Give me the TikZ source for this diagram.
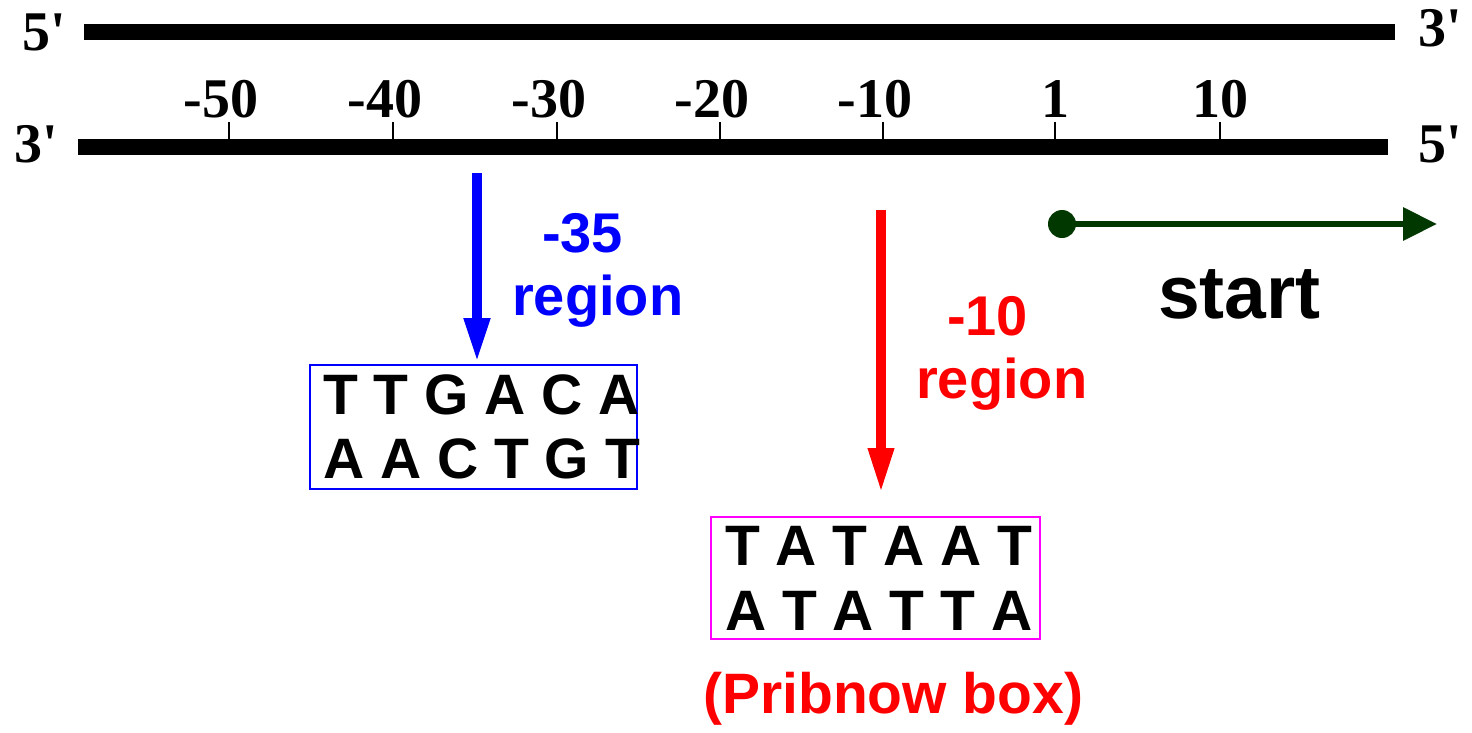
\documentclass[tikz,border=0pt]{standalone}
\usepackage{fontspec}
\setmainfont{Liberation Serif}[Ligatures=TeXOff]
\setsansfont{Liberation Sans}
\usetikzlibrary{arrows.meta}
\definecolor{darkgr}{RGB}{0,56,0}
\definecolor{boxmag}{RGB}{255,0,255}
\definecolor{pureblue}{RGB}{0,0,255}
\definecolor{purered}{RGB}{255,0,0}
\tikzset{
  strand/.style={line width=16pt},
  tick/.style={line width=2pt},
  endlab/.style={anchor=base west, inner sep=0pt, font=\fontsize{56}{60}\selectfont\bfseries},
  poslab/.style={anchor=base, inner sep=0pt, font=\fontsize{56}{60}\selectfont\bfseries},
  lab/.style={anchor=base west, inner sep=0pt, font=\fontsize{56}{60}\selectfont\sffamily\bfseries},
  seq/.style={anchor=base west, inner sep=0pt, font=\fontsize{57}{60}\selectfont\sffamily\bfseries},
  seqbox/.style={draw, line width=2pt, inner sep=0pt},
  downarrow/.style={line width=10pt, -{Triangle[length=45pt, width=24pt]}},
}
\begin{document}
\begin{tikzpicture}[x=1pt, y=-1pt]
\useasboundingbox (0,0) rectangle (1472,732);

% DNA double strand
\coordinate (topL) at (84,32);
\coordinate (topR) at (1395,32);
\coordinate (botL) at (78,146.5);
\coordinate (botR) at (1388,146.5);
\draw[strand] (topL) -- (topR);
\draw[strand] (botL) -- (botR);

\node[endlab] (t5) at (22,50) {5'};
\node[endlab] (t3) at (1418,46) {3'};
\node[endlab] (b3) at (14,162) {3'};
\node[endlab] (b5) at (1418,162) {5'};

% position ticks with labels
\foreach \x/\t in {229/-50, 393/-40, 557/-30, 720/-20, 883/-10} {
  \draw[tick] (\x,122) -- (\x,146);
  \node[poslab] at (\x-8,117) {\t};
}
\foreach \x/\t in {1055/1, 1220/10} {
  \draw[tick] (\x,122) -- (\x,146);
  \node[poslab] at (\x,117) {\t};
}

% -35 region
\coordinate (a35s) at (477,173);
\coordinate (a35e) at (477,363);
\draw[downarrow, pureblue] (a35s) -- (a35e);
\node[lab, text=pureblue] (l35a) at (542,252) {-35};
\node[lab, text=pureblue] (l35b) at (512,315) {region};
\node[seqbox, draw=pureblue, minimum width=327pt, minimum height=124pt] (box35) at (473.5,427) {};
\node[seq] (s35a) at (323,414) {T T G A C A};
\node[seq] (s35b) at (323,478) {A A C T G T};

% -10 region
\coordinate (a10s) at (881,210);
\coordinate (a10e) at (881,493);
\draw[downarrow, purered, line width=9.5pt] (a10s) -- (a10e);
\node[lab, text=purered] (l10a) at (947,335) {-10};
\node[lab, text=purered] (l10b) at (916,398) {region};
\node[seqbox, draw=boxmag, minimum width=329pt, minimum height=122pt] (box10) at (875.5,578) {};
\node[seq] (s10a) at (725,565) {T A T A A T};
\node[seq] (s10b) at (725,630) {A T A T T A};
\node[lab, text=purered, font=\fontsize{57}{60}\selectfont\sffamily\bfseries] (prib) at (703,713) {(Pribnow box)};

% transcription start
\coordinate (st0) at (1062,224);
\coordinate (st1) at (1437,224);
\fill[darkgr] (st0) circle (14pt);
\draw[darkgr, line width=6.5pt, -{Triangle[length=34pt, width=32pt]}] (st0) -- (st1);
\node[lab, font=\fontsize{75}{80}\selectfont\sffamily\bfseries] (start) at (1158,318) {start};
\end{tikzpicture}
\end{document}
